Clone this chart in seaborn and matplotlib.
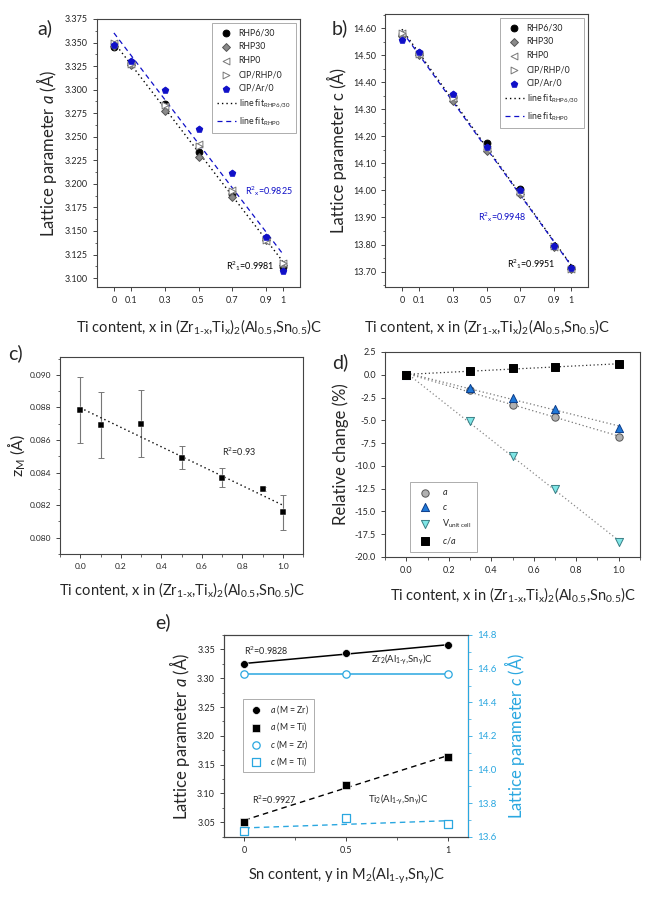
import numpy as np
import pandas as pd
import matplotlib
matplotlib.use("Agg")
import matplotlib.pyplot as plt
from matplotlib.ticker import MultipleLocator, FixedLocator
import seaborn as sns

sns.set_style("ticks")
plt.rcParams["font.family"] = ["Lato", "DejaVu Sans"]
plt.rcParams["mathtext.fontset"] = "custom"
plt.rcParams["mathtext.rm"] = "Lato"
plt.rcParams["mathtext.it"] = "Lato:italic"
plt.rcParams["mathtext.default"] = "regular"
plt.rcParams["axes.edgecolor"] = "#444444"
plt.rcParams["axes.linewidth"] = 0.8

# DATA
# panels a/b: lattice parameters vs Ti content
x_ti = [0, 0.1, 0.3, 0.5, 0.7, 0.9, 1]
a_rhp630 = [3.345, 3.328, 3.285, 3.234, 3.189, 3.143, 3.112]
a_rhp30 = [3.346, 3.326, 3.277, 3.228, 3.186, 3.140, 3.114]
a_rhp0 = [3.350, 3.327, 3.283, 3.242, 3.193, 3.139, 3.116]
a_ciprhp = [3.349, 3.327, 3.284, 3.240, 3.192, 3.140, 3.116]
a_cipar = [3.347, 3.330, 3.300, 3.258, 3.212, 3.144, 3.108]

c_rhp630 = [14.575, 14.508, 14.347, 14.177, 14.004, 13.795, 13.714]
c_rhp30 = [14.572, 14.500, 14.332, 14.144, 13.985, 13.790, 13.708]
c_rhp0 = [14.582, 14.505, 14.341, 14.154, 13.991, 13.792, 13.710]
c_ciprhp = [14.580, 14.506, 14.343, 14.158, 13.995, 13.793, 13.711]
c_cipar = [14.557, 14.510, 14.356, 14.159, 14.001, 13.794, 13.712]

series_names = ["RHP6/30", "RHP30", "RHP0", "CIP/RHP/0", "CIP/Ar/0"]

# panel c: z_M
zm = [0.08785, 0.08692, 0.08700, 0.08492, 0.08369, 0.08300, 0.08155]
zm_err = [0.00205, 0.00200, 0.00205, 0.00072, 0.00060, 0.00010, 0.00105]

# panel d: relative change (%)
x_d = [0, 0.3, 0.5, 0.7, 1.0]
rel_a = [0, -1.71, -3.28, -4.60, -6.83]
rel_c = [0, -1.41, -2.55, -3.76, -5.81]
rel_v = [0, -5.07, -8.95, -12.50, -18.40]
rel_ca = [0, 0.38, 0.71, 0.89, 1.15]

# panel e: Sn content
y_sn = [0, 0.5, 1]
a_zr = [3.3245, 3.344, 3.357]
a_ti = [3.051, 3.115, 3.163]
c_zr = [14.568, 14.568, 14.568]
c_ti = [13.636, 13.711, 13.679]

blue = "#1010c8"
lblue = "#2aa7e0"
W, H = 649, 898

fig = plt.figure(figsize=(W / 100, H / 100), dpi=100)

def box(l, t, r, b):
    return [l / W, 1 - b / H, (r - l) / W, (b - t) / H]

def fitline(ax, x, y, x0, x1, **kw):
    p = np.polyfit(x, y, 1)
    xx = np.array([x0, x1])
    sns.lineplot(x=xx, y=np.polyval(p, xx), ax=ax, **kw)

xlab_ti = "Ti content, x in (Zr$_{1\\text{-}x}$,Ti$_{x}$)$_2$(Al$_{0.5}$,Sn$_{0.5}$)C"
tick_fs = 6.5
lab_fs = 10.5

marker_styles = [
    dict(marker="o", color="black", edgecolor="black"),
    dict(marker="D", color="#8a8a8a", edgecolor="#555555", s=16),
    dict(marker="<", color="white", edgecolor="#777777"),
    dict(marker=">", color="white", edgecolor="#777777"),
    dict(marker="p", color=blue, edgecolor=blue),
]

def lattice_panel(ax, data, fit_lbl):
    for name, vals, st in zip(series_names, data, marker_styles):
        kw = dict(s=24, linewidth=0.7)
        kw.update(st)
        sns.scatterplot(x=x_ti, y=vals, ax=ax, label=name, zorder=3, **kw)
    fitline(ax, x_ti, data[0], 0, 1, color="black", linestyle=(0, (1, 2.2)),
            linewidth=1.0, label="line fit$_{" + fit_lbl[0] + "}$", zorder=2)
    fitline(ax, x_ti, data[4], 0, 1, color=blue, linestyle=(0, (4, 3)),
            linewidth=0.9, label="line fit$_{" + fit_lbl[1] + "}$", zorder=2)
    ax.set_xlim(-0.1, 1.1)
    ax.set_xticks(x_ti)
    ax.set_xticklabels(["0", "0.1", "0.3", "0.5", "0.7", "0.9", "1"])
    ax.tick_params(labelsize=tick_fs, length=3, width=0.6)
    ax.tick_params(which="minor", length=1.8, width=0.5)
    ax.set_xlabel(xlab_ti, fontsize=lab_fs, labelpad=9)
    leg = ax.legend(loc="upper right", fontsize=6.3, frameon=True, fancybox=False,
                    edgecolor="#888888", handlelength=2.2, borderpad=0.6,
                    labelspacing=0.55, handletextpad=0.3)
    leg.get_frame().set_linewidth(0.6)

# panel a
ax_a = fig.add_axes(box(97, 19, 300, 287))
lattice_panel(ax_a, [a_rhp630, a_rhp30, a_rhp0, a_ciprhp, a_cipar], ["RHP6/30", "RHP0"])
ax_a.set_ylim(3.0905, 3.375)
ax_a.yaxis.set_major_locator(MultipleLocator(0.025))
ax_a.yaxis.set_minor_locator(MultipleLocator(0.0125))
ax_a.yaxis.set_major_formatter(lambda v, p: f"{v:.3f}")
ax_a.set_ylabel("Lattice parameter $\\mathit{a}$ (Å)", fontsize=lab_fs + 1.5)
ax_a.text(0.775, 3.1926, "R$^2$$_x$=0.9825", color=blue, fontsize=6.5, va="center")
ax_a.text(0.66, 3.1127, "R$^2$$_1$=0.9981", color="black", fontsize=6.5, va="center")

# panel b
ax_b = fig.add_axes(box(385, 14, 588, 287))
lattice_panel(ax_b, [c_rhp630, c_rhp30, c_rhp0, c_ciprhp, c_cipar], ["RHP6/30", "RHP0"])
ax_b.set_ylim(13.643, 14.652)
ax_b.yaxis.set_major_locator(MultipleLocator(0.1))
ax_b.yaxis.set_minor_locator(MultipleLocator(0.05))
ax_b.yaxis.set_major_formatter(lambda v, p: f"{v:.2f}")
ax_b.set_ylabel("Lattice parameter c (Å)", fontsize=lab_fs + 1.5)
ax_b.text(0.45, 13.90, "R$^2$$_x$=0.9948", color=blue, fontsize=6.5, va="center")
ax_b.text(0.62, 13.728, "R$^2$$_1$=0.9951", color="black", fontsize=6.5, va="center")

# panel c
ax_c = fig.add_axes(box(60, 357, 303, 554))
ax_c.errorbar(x_ti, zm, yerr=zm_err, fmt="none", ecolor="#777777", elinewidth=0.8,
              capsize=2, capthick=0.7, zorder=2)
sns.scatterplot(x=x_ti, y=zm, ax=ax_c, marker="s", color="black", s=18, zorder=3)
fitline(ax_c, x_ti, zm, 0, 1, color="black", linestyle=(0, (1, 2.2)), linewidth=1.0, zorder=2)
ax_c.set_xlim(-0.1, 1.1)
ax_c.set_ylim(0.0790, 0.0911)
ax_c.xaxis.set_major_locator(MultipleLocator(0.2))
ax_c.xaxis.set_minor_locator(MultipleLocator(0.1))
ax_c.yaxis.set_major_locator(MultipleLocator(0.002))
ax_c.yaxis.set_minor_locator(MultipleLocator(0.001))
ax_c.xaxis.set_major_formatter(lambda v, p: f"{v:.1f}")
ax_c.yaxis.set_major_formatter(lambda v, p: f"{v:.3f}")
ax_c.tick_params(labelsize=tick_fs - 0.5, length=3, width=0.6)
ax_c.tick_params(which="minor", length=1.8, width=0.5)
ax_c.set_xlabel(xlab_ti, fontsize=lab_fs, labelpad=7)
ax_c.set_ylabel("z$_M$ (Å)", fontsize=lab_fs + 1, labelpad=2)
ax_c.text(0.70, 0.0853, "R$^2$=0.93", fontsize=6.5, va="center")

# panel d
ax_d = fig.add_axes(box(385, 352, 640, 557))
d_series = [
    (rel_a, "$\\mathit{a}$", dict(marker="o", color="#b0b0b0", edgecolor="#555555", s=28), "#777777"),
    (rel_c, "$\\mathit{c}$", dict(marker="^", color="#1f78d8", edgecolor="#0b3d8a", s=34), "#777777"),
    (rel_v, "V$_{unit\\ cell}$", dict(marker="v", color="#7fe6e6", edgecolor="#3a7f86", s=34), "#888888"),
    (rel_ca, "$\\mathit{c/a}$", dict(marker="s", color="black", edgecolor="black", s=26), "#333333"),
]
for vals, lbl, st, lc in d_series:
    fitline(ax_d, x_d, vals, 0, 1.0, color=lc, linestyle=(0, (1, 2)), linewidth=0.9, zorder=2)
for vals, lbl, st, lc in d_series:
    sns.scatterplot(x=x_d, y=vals, ax=ax_d, label=lbl, linewidth=0.7, zorder=3, **st)
ax_d.set_xlim(-0.1, 1.1)
ax_d.set_ylim(-20, 2.5)
ax_d.xaxis.set_major_locator(MultipleLocator(0.2))
ax_d.xaxis.set_minor_locator(MultipleLocator(0.1))
ax_d.yaxis.set_major_locator(MultipleLocator(2.5))
ax_d.xaxis.set_major_formatter(lambda v, p: f"{v:.1f}")
ax_d.yaxis.set_major_formatter(lambda v, p: f"{v:.1f}")
ax_d.tick_params(labelsize=tick_fs, length=3, width=0.6)
ax_d.tick_params(which="minor", length=1.8, width=0.5)
ax_d.set_xlabel(xlab_ti, fontsize=lab_fs, labelpad=7)
ax_d.set_ylabel("Relative change (%)", fontsize=lab_fs + 1.5)
leg = ax_d.legend(loc="lower left", fontsize=6.5, frameon=True, fancybox=False,
                  edgecolor="#888888", borderpad=0.7, labelspacing=0.6,
                  handletextpad=0.8, bbox_to_anchor=(0.08, 0.0))
leg.get_frame().set_linewidth(0.6)

# panel e
ax_e = fig.add_axes(box(224, 635, 468, 837))
ax_e2 = ax_e.twinx()
fitline(ax_e, y_sn, a_zr, 0, 1, color="black", linewidth=1.1, zorder=2)
fitline(ax_e, y_sn, a_ti, 0, 1, color="black", linestyle=(0, (4, 3)), linewidth=1.0, zorder=2)
fitline(ax_e2, y_sn, c_zr, 0, 1, color=lblue, linewidth=1.1, zorder=2)
fitline(ax_e2, y_sn, c_ti, 0, 1, color=lblue, linestyle=(0, (4, 3)), linewidth=1.0, zorder=2)
sns.scatterplot(x=y_sn, y=a_zr, ax=ax_e, marker="o", color="black", s=32, zorder=3,
                label="$\\mathit{a}$ (M = Zr)")
sns.scatterplot(x=y_sn, y=a_ti, ax=ax_e, marker="s", color="black", s=28, zorder=3,
                label="$\\mathit{a}$ (M = Ti)")
sns.scatterplot(x=y_sn, y=c_zr, ax=ax_e2, marker="o", color="white", edgecolor=lblue,
                linewidth=0.9, s=28, zorder=3, label="$\\mathit{c}$ (M = Zr)")
sns.scatterplot(x=y_sn, y=c_ti, ax=ax_e2, marker="s", color="white", edgecolor=lblue,
                linewidth=0.9, s=26, zorder=3, label="$\\mathit{c}$ (M = Ti)")
ax_e.set_xlim(-0.1, 1.1)
ax_e.set_ylim(3.0245, 3.375)
ax_e2.set_ylim(13.6, 14.8)
ax_e.xaxis.set_major_locator(FixedLocator(y_sn))
ax_e.xaxis.set_minor_locator(MultipleLocator(0.25))
ax_e.set_xticklabels(["0", "0.5", "1"])
ax_e.yaxis.set_major_locator(MultipleLocator(0.05))
ax_e.yaxis.set_minor_locator(MultipleLocator(0.025))
ax_e.yaxis.set_major_formatter(lambda v, p: f"{v:.2f}")
ax_e2.yaxis.set_major_locator(MultipleLocator(0.2))
ax_e2.yaxis.set_minor_locator(MultipleLocator(0.1))
ax_e2.yaxis.set_major_formatter(lambda v, p: f"{v:.1f}")
ax_e.tick_params(labelsize=tick_fs, length=3, width=0.6)
ax_e.tick_params(which="minor", length=1.8, width=0.5)
ax_e2.tick_params(labelsize=tick_fs + 0.5, length=3, width=0.6, colors=lblue)
ax_e2.tick_params(which="minor", length=1.8, width=0.5, colors=lblue)
ax_e2.spines["right"].set_color(lblue)
ax_e.set_xlabel("Sn content, y in M$_2$(Al$_{1\\text{-}y}$,Sn$_{y}$)C", fontsize=lab_fs, labelpad=7)
ax_e.set_ylabel("Lattice parameter $\\mathit{a}$ (Å)", fontsize=lab_fs + 1.5)
ax_e2.set_ylabel("Lattice parameter $\\mathit{c}$ (Å)", fontsize=lab_fs + 1.5, color=lblue)
ax_e.text(0.0, 3.347, "R$^2$=0.9828", fontsize=6.5, va="center")
ax_e.text(0.625, 3.331, "Zr$_2$(Al$_{1\\text{-}y}$,Sn$_{y}$)C", fontsize=6.8, va="center")
ax_e.text(0.036, 3.089, "R$^2$=0.9927", fontsize=6.5, va="center")
ax_e.text(0.61, 3.089, "Ti$_2$(Al$_{1\\text{-}y}$,Sn$_{y}$)C", fontsize=6.8, va="center")
h1, l1 = ax_e.get_legend_handles_labels()
h2, l2 = ax_e2.get_legend_handles_labels()
if ax_e2.get_legend():
    ax_e2.get_legend().remove()
leg = ax_e.legend(h1 + h2, l1 + l2, loc="upper left", bbox_to_anchor=(0.06, 0.705),
                  fontsize=6.3, frameon=True, fancybox=False, edgecolor="#888888",
                  borderpad=0.5, labelspacing=0.5, handletextpad=0.6)
leg.get_frame().set_linewidth(0.6)

# panel letters
for txt, px, py in [("a)", 37, 28), ("b)", 332, 28), ("c)", 8, 353), ("d)", 332, 362), ("e)", 155, 622)]:
    fig.text(px / W, 1 - py / H, txt, fontsize=14, va="center", ha="left")

fig.savefig("out.png", dpi=100)
